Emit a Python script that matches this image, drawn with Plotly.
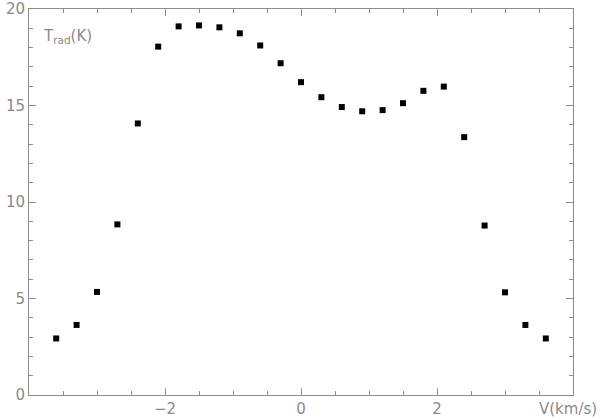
import plotly.graph_objects as go

velocity = [-3.6, -3.3, -3.0, -2.7, -2.4, -2.1, -1.8, -1.5, -1.2, -0.9, -0.6, -0.3,
            0.0, 0.3, 0.6, 0.9, 1.2, 1.5, 1.8, 2.1, 2.4, 2.7, 3.0, 3.3, 3.6]
t_rad = [2.93, 3.63, 5.34, 8.84, 14.07, 18.05, 19.1, 19.15, 19.05, 18.74, 18.11, 17.19,
         16.21, 15.43, 14.92, 14.7, 14.76, 15.12, 15.76, 15.98, 13.36, 8.78, 5.32, 3.63, 2.93]
x_labels = [-2, 0, 2]

axis_grey = "#8c8c8c"
font = dict(family="DejaVu Sans", size=15, color="#8a8a8a")

fig = go.Figure()
fig.add_trace(go.Scatter(
    x=velocity, y=t_rad, mode="markers",
    marker=dict(symbol="square", size=6, color="black"),
    showlegend=False,
))

common = dict(
    showgrid=False, zeroline=False, showline=True, linecolor=axis_grey, linewidth=1,
    mirror="ticks", ticks="inside", tickcolor=axis_grey, tickwidth=1, ticklen=7,
    tickfont=font, automargin=False,
)
fig.update_xaxes(range=[-4, 4], tickvals=x_labels, ticktext=["\u22122", "0", "2"],
                 minor=dict(dtick=0.5, tick0=0, ticks="inside", ticklen=4, tickcolor=axis_grey),
                 **common)
fig.update_yaxes(range=[0, 20], dtick=5, tick0=0,
                 minor=dict(dtick=1, ticks="inside", ticklen=4, tickcolor=axis_grey),
                 **common)

fig.add_annotation(x=0.022, y=0.93, xref="paper", yref="paper", text="T<sub>rad</sub>(K)",
                   showarrow=False, xanchor="left", yanchor="middle", font=font)
fig.add_annotation(x=1.048, y=-0.036, xref="paper", yref="paper", text="V(km/s)",
                   showarrow=False, xanchor="right", yanchor="middle", font=font)

fig.update_layout(
    width=600, height=418,
    margin=dict(l=29, r=27, t=9, b=23),
    plot_bgcolor="white", paper_bgcolor="white",
)

# page has a default 8px body margin; drop it so the figure sits at the corner
fig.write_html("out.html", config={"displayModeBar": False},
               post_script="document.body.style.margin='0';")
